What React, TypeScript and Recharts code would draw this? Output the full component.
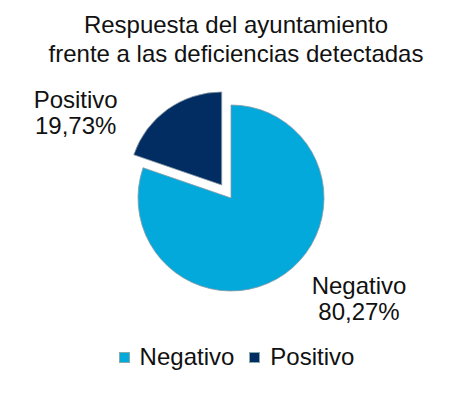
import { PieChart, Pie, Cell, Legend } from "recharts";

const categories = ["Negativo", "Positivo"];
const values = [80.27, 19.73];
const percentLabels = ["80,27%", "19,73%"];
const colors = ["#03A9DB", "#012D62"];
const titleLines = ["Respuesta del ayuntamiento", "frente a las deficiencias detectadas"];

const data = categories.map((name, i) => ({ name, value: values[i] }));

const FONT = "'Liberation Sans', Arial, Helvetica, sans-serif";
const FS = 24;
const CX = 231;
const CY = 198;
const R = 93;
const EXPLODE = 16;

// mid angle of the exploded slice (Positivo), clockwise from 12 o'clock
const total = values.reduce((a, b) => a + b, 0);
const posStart = 90 - (360 * values[0]) / total;
const posMid = ((posStart + -270) / 2) * (Math.PI / 180);
const exCx = CX + EXPLODE * Math.cos(posMid);
const exCy = CY - EXPLODE * Math.sin(posMid);

// label offsets relative to each slice's center
const labelOffsets: Record<string, { dx: number; dy: number }> = {
  Negativo: { dx: 128, dy: 96 },
  Positivo: { dx: -146, dy: -77 },
};

function makeLabel(visible: string) {
  return (props: any) => {
    const { cx, cy, name, index } = props;
    if (name !== visible) return null;
    const off = labelOffsets[name];
    return (
      <text
        x={cx + off.dx}
        y={cy + off.dy}
        textAnchor="middle"
        fill="#111"
        fontSize={FS}
        fontFamily={FONT}
      >
        <tspan x={cx + off.dx}>{name}</tspan>
        <tspan x={cx + off.dx} dy={26}>
          {percentLabels[index]}
        </tspan>
      </text>
    );
  };
}

function LegendContent() {
  return (
    <div style={{ display: "flex", justifyContent: "center", alignItems: "center", fontFamily: FONT, fontSize: FS, color: "#111" }}>
      {categories.map((c, i) => (
        <div key={c} style={{ display: "flex", alignItems: "center", marginLeft: i === 0 ? 0 : 15 }}>
          <span style={{ display: "inline-block", width: 11, height: 11, background: colors[i], border: "1px solid #8aa", boxSizing: "border-box", marginRight: 10 }} />
          <span>{c}</span>
        </div>
      ))}
    </div>
  );
}

export default function App() {
  return (
    <div style={{ position: "absolute", left: 0, top: 0, width: 473, height: 393, background: "#fff" }}>
      <PieChart width={473} height={393} margin={{ top: 0, right: 0, bottom: 0, left: 0 }}>
        {titleLines.map((t, i) => (
          <text key={i} x={236} y={33 + i * 29} textAnchor="middle" fill="#111" fontSize={FS} fontFamily={FONT}>
            {t}
          </text>
        ))}
        <Pie
          data={data}
          dataKey="value"
          nameKey="name"
          cx={CX}
          cy={CY}
          outerRadius={R}
          startAngle={90}
          endAngle={-270}
          label={makeLabel("Negativo")}
          labelLine={false}
          isAnimationActive={false}
        >
          {data.map((d, i) => (
            <Cell key={d.name} fill={i === 0 ? colors[0] : "none"} stroke={i === 0 ? "#8a9aa6" : "none"} strokeWidth={0.8} />
          ))}
        </Pie>
        <Pie
          data={data}
          dataKey="value"
          nameKey="name"
          cx={exCx}
          cy={exCy}
          outerRadius={R}
          startAngle={90}
          endAngle={-270}
          label={makeLabel("Positivo")}
          labelLine={false}
          isAnimationActive={false}
        >
          {data.map((d, i) => (
            <Cell key={d.name} fill={i === 1 ? colors[1] : "none"} stroke={i === 1 ? "#8a9aa6" : "none"} strokeWidth={0.8} />
          ))}
        </Pie>
        <Legend
          content={<LegendContent />}
          wrapperStyle={{ position: "absolute", left: 0, top: 343, width: 473, height: 30 }}
        />
      </PieChart>
    </div>
  );
}
